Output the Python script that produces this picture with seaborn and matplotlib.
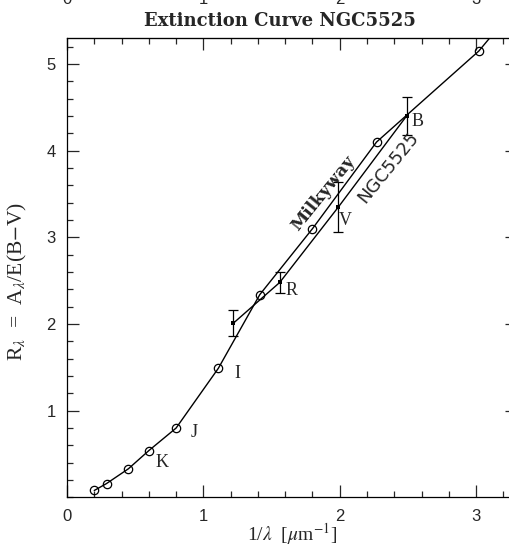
import numpy as np
import seaborn as sns
import matplotlib.pyplot as plt
import pandas as pd
from matplotlib.ticker import MultipleLocator

# Milky Way extinction curve (open circles)
mw_x = [0.20, 0.29, 0.45, 0.60, 0.80, 1.11, 1.414, 1.80, 2.27, 3.02, 3.36]
mw_y = [0.08, 0.16, 0.33, 0.54, 0.80, 1.49, 2.34, 3.10, 4.10, 5.15, 5.79]

# NGC5525 measurements (filled squares with error bars)
ngc_x = [1.22, 1.56, 1.99, 2.49]
ngc_y = [2.01, 2.48, 3.35, 4.40]
ngc_err = [0.15, 0.12, 0.29, 0.22]

# photometric band labels
band_names = ['K', 'J', 'I', 'R', 'V', 'B']
band_x = [0.70, 0.93, 1.25, 1.65, 2.04, 2.57]
band_y = [0.40, 0.75, 1.43, 2.39, 3.19, 4.34]

top_ticks = [0, 1, 2, 3]

sns.set_style('ticks')
plt.rcParams['font.family'] = ['Liberation Sans', 'DejaVu Sans']
plt.rcParams['mathtext.fontset'] = 'stix'

fig = plt.figure(figsize=(5.09, 5.48), dpi=100)
ax = fig.add_axes([0.1316, 0.0923, 0.8841, 0.8383])

mw = pd.DataFrame({'x': mw_x, 'y': mw_y})
ngc = pd.DataFrame({'x': ngc_x, 'y': ngc_y, 'err': ngc_err})

sns.lineplot(data=mw, x='x', y='y', sort=False, ax=ax, color='black', lw=1.0,
             marker='o', markersize=6, markerfacecolor='none',
             markeredgecolor='black', markeredgewidth=0.9)
sns.lineplot(data=ngc, x='x', y='y', sort=False, ax=ax, color='black', lw=1.0,
             marker='s', markersize=3, markeredgewidth=0)
ax.errorbar(ngc['x'], ngc['y'], yerr=ngc['err'], fmt='none', ecolor='black',
            elinewidth=0.9, capsize=3.5, capthick=0.9)

for name, bx, by in zip(band_names, band_x, band_y):
    ax.text(bx, by, name, ha='center', va='center', fontsize=13,
            family='Liberation Serif')

ax.text(1.883, 3.51, 'Milkyway', rotation=51, ha='center', va='center',
        fontsize=12.5, fontweight='bold', family='DejaVu Serif')
ax.text(2.354, 3.81, 'NGC5525', rotation=51, ha='center', va='center',
        fontsize=13, family='DejaVu Sans')

ax.set_xlim(0, 3.3)
ax.set_ylim(0, 5.3)
ax.xaxis.set_major_locator(MultipleLocator(1))
ax.xaxis.set_minor_locator(MultipleLocator(0.2))
ax.yaxis.set_major_locator(MultipleLocator(1))
ax.yaxis.set_minor_locator(MultipleLocator(0.2))
ax.set_yticks([1, 2, 3, 4, 5])
ax.tick_params(which='both', direction='in', top=True, right=True,
               width=0.9, labelsize=12, pad=8)
ax.tick_params(which='major', length=8.6)
ax.tick_params(which='minor', length=4.3)
for sp in ax.spines.values():
    sp.set_linewidth(0.9)
    sp.set_color('black')

secax = ax.secondary_xaxis('top')
secax.set_xticks(top_ticks)
secax.tick_params(length=0, pad=22, labelsize=12)

ax.set_xlabel(r'1/$\lambda$  [$\mu$m$^{-1}$]', fontsize=14,
              family='Liberation Serif', labelpad=-2)
ax.set_ylabel(r'R$_\lambda$  =  A$_\lambda$/E(B$-$V)', fontsize=15.5,
              family='Liberation Serif')
ax.yaxis.set_label_coords(-0.084, 0.471)
ax.set_title('Extinction Curve NGC5525', fontsize=13, fontweight='bold',
             family='DejaVu Serif', x=0.473, y=1.026, pad=0)

fig.savefig('out.png', dpi=100)
